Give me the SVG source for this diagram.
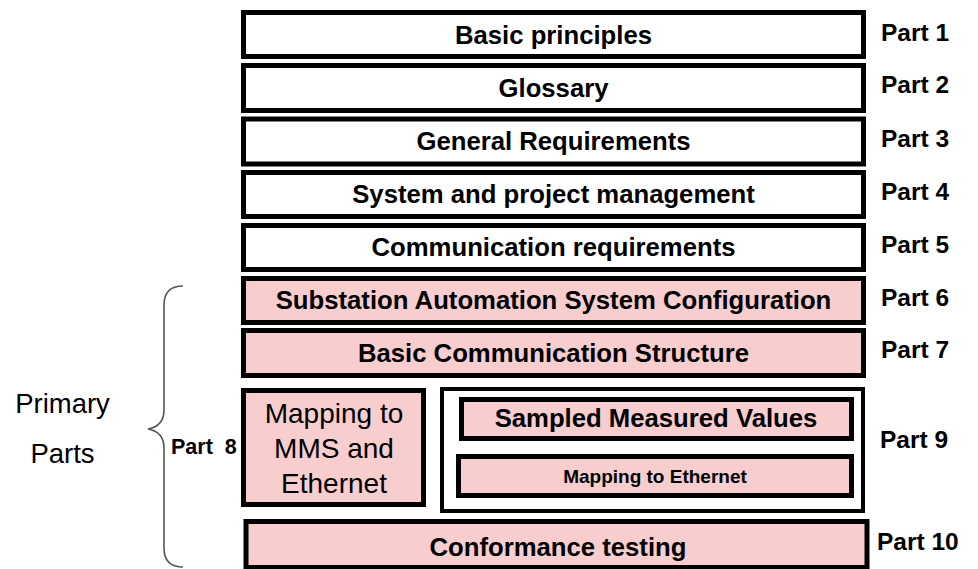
<svg xmlns="http://www.w3.org/2000/svg" width="978" height="569" viewBox="0 0 978 569">
<style>
.box{fill:#ffffff;stroke:#000;stroke-width:5}
.pk{fill:#f7cdcd;stroke:#000;stroke-width:5}
.t{font-family:"Liberation Sans",Arial,sans-serif;font-weight:bold;font-size:25.7px;fill:#000;text-anchor:middle}
.p{font-family:"Liberation Sans",Arial,sans-serif;font-weight:bold;font-size:24.5px;fill:#000}
.n{font-family:"Liberation Sans",Arial,sans-serif;font-size:28px;fill:#000;text-anchor:middle}
</style>
<rect width="978" height="569" fill="#fff"/>
<g id="part1"><rect class="box" x="243.5" y="12.5" width="620" height="44"/><text class="t" x="553.5" y="44">Basic principles</text><text class="p" x="881" y="41">Part 1</text></g>
<g id="part2"><rect class="box" x="243.5" y="65.5" width="620" height="45"/><text class="t" x="553.5" y="97">Glossary</text><text class="p" x="881" y="93">Part 2</text></g>
<g id="part3"><rect class="box" x="243.5" y="119" width="620" height="45"/><text class="t" x="553.5" y="150">General Requirements</text><text class="p" x="881" y="147">Part 3</text></g>
<g id="part4"><rect class="box" x="243.5" y="172.5" width="620" height="44"/><text class="t" x="553.5" y="203">System and project management</text><text class="p" x="881" y="200">Part 4</text></g>
<g id="part5"><rect class="box" x="243.5" y="225.5" width="620" height="44"/><text class="t" x="553.5" y="256">Communication requirements</text><text class="p" x="881" y="253">Part 5</text></g>
<g id="part6"><rect class="pk" x="243.5" y="278.5" width="620" height="44"/><text class="t" x="553.5" y="309">Substation Automation System Configuration</text><text class="p" x="881" y="306">Part 6</text></g>
<g id="part7"><rect class="pk" x="243.5" y="330.5" width="620" height="45"/><text class="t" x="553.5" y="362">Basic Communication Structure</text><text class="p" x="881" y="358">Part 7</text></g>
<g id="part8"><rect class="pk" x="243.5" y="390.5" width="180" height="114"/><text class="n" x="334" y="423">Mapping to</text><text class="n" x="334" y="458">MMS and</text><text class="n" x="334" y="493">Ethernet</text><text x="171" y="454" font-family="Liberation Sans,Arial,sans-serif" font-weight="bold" font-size="21.5" xml:space="preserve">Part  8</text></g>
<g id="part9"><rect x="442" y="389" width="421" height="122" fill="#fff" stroke="#000" stroke-width="4"/><rect class="pk" x="461.5" y="399.5" width="390" height="39"/><text class="t" x="656" y="427">Sampled Measured Values</text><rect class="pk" x="458.5" y="456.5" width="393" height="39"/><text class="t" x="655" y="483" style="font-size:19px">Mapping to Ethernet</text><text class="p" x="880" y="448">Part 9</text></g>
<g id="part10"><rect class="pk" x="246" y="521.5" width="621" height="46"/><text class="t" x="558" y="556">Conformance testing</text><text class="p" x="877" y="550">Part 10</text></g>
<g id="primary"><path d="M183 286 C170 286 164 292 164 305 L164 410 C164 420 159 427 148 429 C159 431 164 438 164 448 L164 548 C164 561 170 567 183 567" fill="none" stroke="#555" stroke-width="1.6"/><text x="62.5" y="413" font-family="Liberation Sans,Arial,sans-serif" font-size="27.5" text-anchor="middle">Primary</text><text x="62.5" y="463" font-family="Liberation Sans,Arial,sans-serif" font-size="27.5" text-anchor="middle">Parts</text></g>
</svg>
